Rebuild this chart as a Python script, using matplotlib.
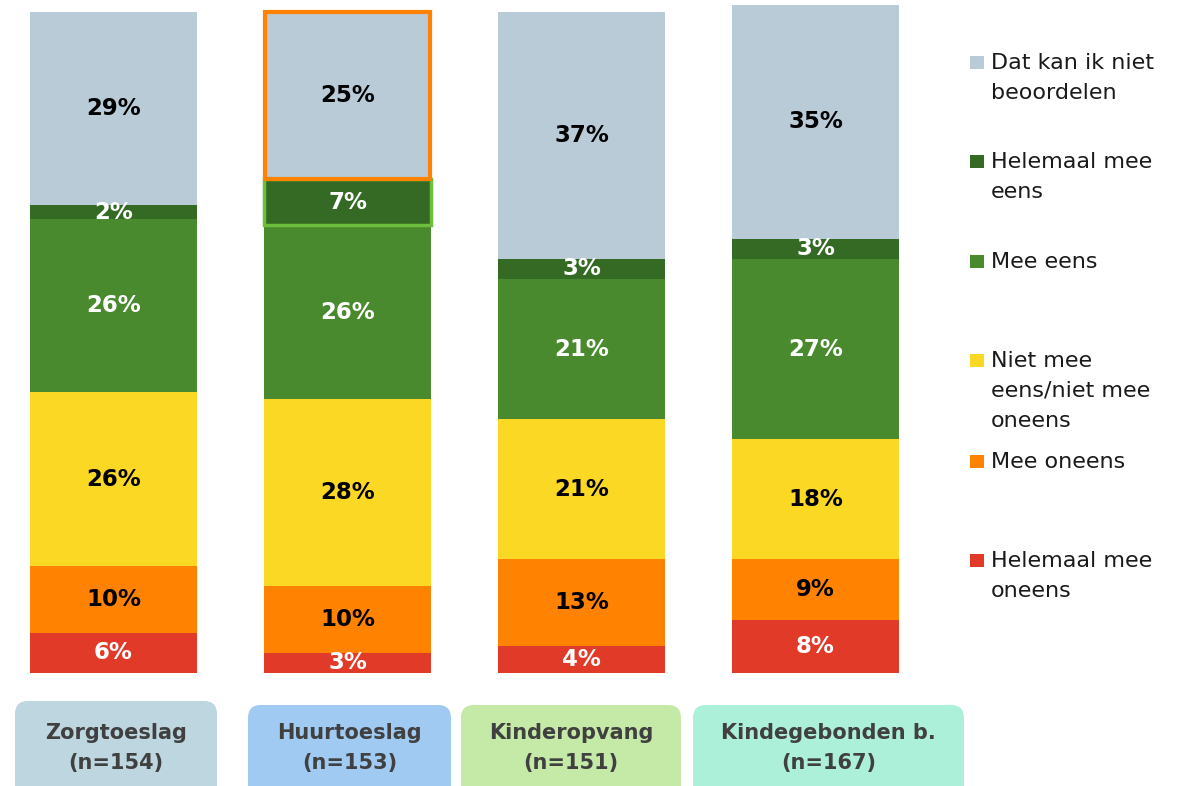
import matplotlib.pyplot as plt
from matplotlib.patches import FancyBboxPatch, Rectangle

regelingen = ['Zorgtoeslag', 'Huurtoeslag', 'Kinderopvang', 'Kindegebonden b.']
aantallen = [154, 153, 151, 167]

# percentages per antwoord, van onder naar boven gestapeld
helemaal_oneens = [6, 3, 4, 8]
oneens = [10, 10, 13, 9]
neutraal = [26, 28, 21, 18]
eens = [26, 26, 21, 27]
helemaal_eens = [2, 7, 3, 3]
kan_niet = [29, 25, 37, 35]

reeksen = [
    ('Helemaal mee\noneens', helemaal_oneens, '#E23A28', 'white'),
    ('Mee oneens', oneens, '#FF8200', 'black'),
    ('Niet mee\neens/niet mee\noneens', neutraal, '#FBD823', 'black'),
    ('Mee eens', eens, '#4A8A2E', 'white'),
    ('Helemaal mee\neens', helemaal_eens, '#356A25', 'white'),
    ('Dat kan ik niet\nbeoordelen', kan_niet, '#B9CBD7', 'black'),
]

box_kleuren = ['#BDD6E0', '#A0CAF2', '#C5E9A6', '#ADF0DA']

W, H = 1184, 786
fig = plt.figure(figsize=(W / 100, H / 100), dpi=100)

# staafdiagram
breedte = 0.714
ax = fig.add_axes([30 / W, (H - 673) / H, 869 / W, 668 / H])
ax.set_xlim(-breedte / 2, 3 + breedte / 2)
ax.set_ylim(0, 100)
ax.axis('off')

x = range(len(regelingen))
onder = [0] * len(regelingen)
for label, waarden, kleur, tekstkleur in reeksen:
    ax.bar(x, waarden, breedte, bottom=onder, color=kleur, linewidth=0)
    for i, v in enumerate(waarden):
        ax.text(i, onder[i] + v / 2, f'{v}%', ha='center', va='center',
                color=tekstkleur, fontsize=16.5, fontweight='bold',
                family='DejaVu Sans')
    onder = [o + v for o, v in zip(onder, waarden)]

# accentkaders rond twee segmenten van Huurtoeslag
basis = helemaal_oneens[1] + oneens[1] + neutraal[1] + eens[1]
ax.bar(1, helemaal_eens[1], breedte, bottom=basis, fill=False,
       edgecolor='#6BBF3A', linewidth=2.5)
ax.bar(1, kan_niet[1], breedte * 0.985, bottom=basis + helemaal_eens[1],
       fill=False, edgecolor='#FF8200', linewidth=3)

# overlay in pixelcoördinaten voor legenda en categorievakken
ov = fig.add_axes([0, 0, 1, 1])
ov.set_xlim(0, W)
ov.set_ylim(H, 0)
ov.axis('off')

legenda_y = [63, 162, 262, 361, 462, 561]
for (label, _, kleur, _), y in zip(reversed(reeksen), legenda_y):
    ov.add_patch(Rectangle((970, y - 7), 14, 13, color=kleur, linewidth=0))
    ov.text(991, y - 10, label, ha='left', va='top', fontsize=16,
            family='DejaVu Sans', color='#1A1A1A', linespacing=1.62)

vakken = [(15, 701, 202), (248, 705, 203), (461, 705, 220), (693, 705, 271)]
for (bx, by, bw), kleur, naam, n in zip(vakken, box_kleuren, regelingen, aantallen):
    ov.add_patch(FancyBboxPatch((bx, by), bw, 120,
                                boxstyle='round,pad=0,rounding_size=13',
                                facecolor=kleur, edgecolor='none'))
    ov.text(bx + bw / 2, 748, f'{naam}\n(n={n})', ha='center', va='center',
            fontsize=15, fontweight='bold', family='DejaVu Sans',
            color='#404040', linespacing=1.6)

fig.savefig('out.png', dpi=100)
